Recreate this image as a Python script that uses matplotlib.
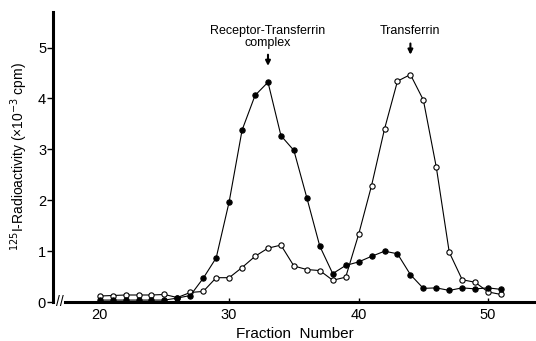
import matplotlib
matplotlib.use("Agg")
import matplotlib.pyplot as plt

plt.rcParams['font.family'] = ['Liberation Sans', 'DejaVu Sans']

# fraction numbers
fractions = list(range(20, 52))
# receptor-transferrin complex (filled circles)
filled = [0.04, 0.04, 0.04, 0.04, 0.04, 0.04, 0.08, 0.13, 0.47, 0.87,
          1.97, 3.38, 4.06, 4.32, 3.27, 2.98, 2.05, 1.10, 0.56, 0.72,
          0.79, 0.90, 1.00, 0.95, 0.54, 0.27, 0.28, 0.23, 0.28, 0.26,
          0.28, 0.25]
# free transferrin (open circles)
opened = [0.12, 0.13, 0.14, 0.14, 0.14, 0.15, 0.09, 0.19, 0.21, 0.48,
          0.48, 0.68, 0.90, 1.06, 1.12, 0.71, 0.64, 0.62, 0.43, 0.49,
          1.33, 2.29, 3.40, 4.34, 4.47, 3.97, 2.65, 0.98, 0.44, 0.39,
          0.20, 0.15]

fig = plt.figure(figsize=(5.36, 3.41), dpi=100)
ax = fig.add_axes([0.099, 0.114, 0.901, 0.851])

ax.plot(fractions, opened, '-o', color='black', lw=0.8, ms=3.8,
        mfc='white', mec='black', mew=0.8, zorder=3)
ax.plot(fractions, filled, '-o', color='black', lw=0.8, ms=3.8,
        mfc='black', mec='black', mew=0.8, zorder=4)

ax.set_xlim(16.4, 53.7)
ax.set_ylim(0, 5.7)
ax.set_xticks([20, 30, 40, 50])
ax.set_yticks([0, 1, 2, 3, 4, 5])

ax.spines['top'].set_visible(False)
ax.spines['right'].set_visible(False)
ax.spines['left'].set_linewidth(2.2)
ax.spines['bottom'].set_linewidth(2.2)
ax.spines['bottom'].set_bounds(17.3, 53.7)
ax.tick_params(axis='y', direction='out', length=4, width=1, labelsize=10.5, pad=1)
ax.tick_params(axis='x', direction='in', length=3, width=1, labelsize=10.5, pad=4)

# broken-axis mark
ax.text(16.9, 0.0, '//', ha='center', va='center', fontsize=10,
        clip_on=False)

ax.set_xlabel('Fraction  Number', fontsize=11, labelpad=4)
ax.set_ylabel('$^{125}$I-Radioactivity (×10$^{-3}$ cpm)', fontsize=10, labelpad=6)

arrow = dict(arrowstyle='-|>', color='black', lw=1.5, mutation_scale=7,
             shrinkA=0, shrinkB=0)
ax.annotate('', xy=(33, 4.64), xytext=(33, 4.86), arrowprops=arrow)
ax.text(33, 4.97, 'Receptor-Transferrin\ncomplex', ha='center', va='bottom',
        fontsize=9, linespacing=1.05)
ax.annotate('', xy=(44, 4.86), xytext=(44, 5.08), arrowprops=arrow)
ax.text(44, 5.21, 'Transferrin', ha='center', va='bottom', fontsize=9)

fig.savefig('out.png', dpi=100)
